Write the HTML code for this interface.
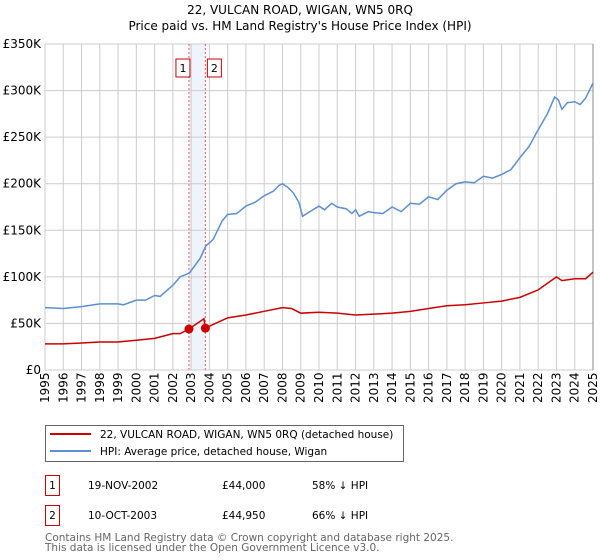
<!DOCTYPE html>
<html><head><meta charset="utf-8"><style>
body{margin:0;background:#fff;font-family:"Liberation Sans","DejaVu Sans",sans-serif}
#wrap{position:relative;width:600px;height:560px;overflow:hidden}
svg text{font-family:"DejaVu Sans","Liberation Sans",sans-serif}
</style></head><body><div id="wrap">
<svg id="svg" width="600" height="560" xmlns="http://www.w3.org/2000/svg"></svg>
</div>
<script>
const hpiX=[1995,1996,1997,1998,1999,1999.3,2000,2000.5,2001,2001.3,2002,2002.4,2002.9,2003.5,2003.8,2004.2,2004.7,2005,2005.5,2006,2006.5,2007,2007.5,2007.8,2008,2008.3,2008.6,2008.9,2009.1,2009.5,2010,2010.3,2010.7,2011,2011.5,2011.8,2012,2012.2,2012.7,2013,2013.5,2014,2014.5,2015,2015.5,2016,2016.5,2017,2017.5,2018,2018.5,2019,2019.5,2020,2020.5,2021,2021.5,2022,2022.5,2022.9,2023.1,2023.3,2023.6,2024,2024.3,2024.6,2024.8,2025];
const hpiY=[67,66,68,71,71,70,75,75,80,79,91,100,104,120,133,140,160,167,168,176,180,187,192,198,200,196,190,180,165,170,176,172,179,175,173,168,172,165,170,169,168,175,170,179,178,186,183,193,200,202,201,208,206,210,215,228,240,258,275,293,290,280,287,288,285,292,300,308];
const ppX=[1995,1996,1997,1998,1999,2000,2001,2002,2002.4,2002.88,2003.7,2003.78,2004,2005,2006,2007,2008,2008.5,2009,2010,2011,2012,2013,2014,2015,2016,2017,2018,2019,2020,2021,2022,2023,2023.3,2024,2024.6,2025];
const ppY=[28,28,29,30,30,32,34,39,39,44,55,44.95,47,56,59,63,67,66,61,62,61,59,60,61,63,66,69,70,72,74,78,86,100,96,98,98,105];
const saleX=[2002.88,2003.78];
const saleY=[44,44.95];
const saleLabels=["1","2"];
const yTicks=[0,50,100,150,200,250,300,350];
const yTickLabels=["£0","£50K","£100K","£150K","£200K","£250K","£300K","£350K"];
const xYears=[1995,1996,1997,1998,1999,2000,2001,2002,2003,2004,2005,2006,2007,2008,2009,2010,2011,2012,2013,2014,2015,2016,2017,2018,2019,2020,2021,2022,2023,2024,2025];

const NS="http://www.w3.org/2000/svg";
const svg=document.getElementById('svg');
const L=45,R=593,T=44,B=370;
const sx=v=>L+(v-1995)/30*(R-L);
const sy=v=>B-v/350*(B-T);
function mk(tag,attrs,parent){const e=document.createElementNS(NS,tag);for(const k in attrs)e.setAttribute(k,attrs[k]);(parent||svg).appendChild(e);return e;}
function txt(s,attrs){const e=mk('text',attrs);e.textContent=s;return e;}

let t=txt("22, VULCAN ROAD, WIGAN, WN5 0RQ",{x:300,y:14,'text-anchor':'middle','font-size':12,fill:'#000'});


t=txt("Price paid vs. HM Land Registry's House Price Index (HPI)",{x:300,y:30,'text-anchor':'middle','font-size':12,fill:'#000'});



// band
let band=mk('rect',{x:sx(saleX[0]),y:T,width:sx(saleX[1])-sx(saleX[0]),height:B-T,fill:'#eef3fc'});



// grid
xYears.forEach(y=>{const l=mk('line',{x1:sx(y),x2:sx(y),y1:T,y2:B,stroke:'#cccccc','stroke-width':1});


const tx=txt(String(y),{transform:`translate(${sx(y)+4},${B+33}) rotate(-90)`,'font-size':12,fill:'#000'});

});
yTicks.forEach((v,i)=>{const l=mk('line',{x1:L,x2:R,y1:sy(v),y2:sy(v),stroke:'#cccccc','stroke-width':1});


const tx=txt(yTickLabels[i],{x:L-4,y:sy(v)+4,'text-anchor':'end','font-size':12,fill:'#000'});

});
let ax=mk('line',{x1:R,x2:R,y1:T,y2:B,stroke:'#888','stroke-width':1});



// sale markers vlines + labels
saleX.forEach((x,i)=>{const l=mk('line',{x1:sx(x),x2:sx(x),y1:T,y2:B,stroke:'#ff5555','stroke-width':1,'stroke-dasharray':'2,2'});


const bx=mk('rect',{x:sx(x)-(i==0?13:-2),y:59,width:14,height:18,fill:'#fff',stroke:'#cc0000'});


const tx=txt(saleLabels[i],{x:sx(x)-(i==0?6:-9),y:72,'text-anchor':'middle','font-size':11,fill:'#000'});

});

let hp=mk('polyline',{points:hpiX.map((x,i)=>sx(x)+','+sy(hpiY[i])).join(' '),fill:'none',stroke:'#5b8fd4','stroke-width':1.5});


let pp=mk('polyline',{points:ppX.map((x,i)=>sx(x)+','+sy(ppY[i])).join(' '),fill:'none',stroke:'#cc0000','stroke-width':1.5});


saleX.forEach((x,i)=>{const c=mk('circle',{cx:sx(x),cy:sy(saleY[i]),r:4.5,fill:'#cc0000'});

});

// legend
let lg=mk('rect',{x:45.5,y:425.5,width:358,height:36,fill:'#fff',stroke:'#666'});


let l1=mk('line',{x1:50,x2:91,y1:434,y2:434,stroke:'#cc0000','stroke-width':2});


t=txt("22, VULCAN ROAD, WIGAN, WN5 0RQ (detached house)",{x:100,y:438,'font-size':10.5,fill:'#000'});


let l2=mk('line',{x1:50,x2:91,y1:451,y2:451,stroke:'#5b8fd4','stroke-width':2});


t=txt("HPI: Average price, detached house, Wigan",{x:100,y:455,'font-size':10.5,fill:'#000'});



// table
const rows=[["1","19-NOV-2002","£44,000","58% ↓ HPI",475],["2","10-OCT-2003","£44,950","66% ↓ HPI",505]];
rows.forEach(r=>{const b=mk('rect',{x:45.5,y:r[4]+0.5,width:14,height:20,fill:'#fff',stroke:'#cc0000'});


let a=txt(r[0],{x:52.5,y:r[4]+14,'text-anchor':'middle','font-size':10.5,fill:'#000'});


a=txt(r[1],{x:88,y:r[4]+14,'font-size':10.5,fill:'#000'});


a=txt(r[2],{x:222,y:r[4]+14,'font-size':10.5,fill:'#000'});


a=txt(r[3],{x:312,y:r[4]+14,'font-size':10.5,fill:'#000'});

});

t=txt("Contains HM Land Registry data © Crown copyright and database right 2025.",{x:45,y:541,'font-size':10.5,fill:'#666'});


t=txt("This data is licensed under the Open Government Licence v3.0.",{x:45,y:551,'font-size':10.5,fill:'#666'});


</script></body></html>
